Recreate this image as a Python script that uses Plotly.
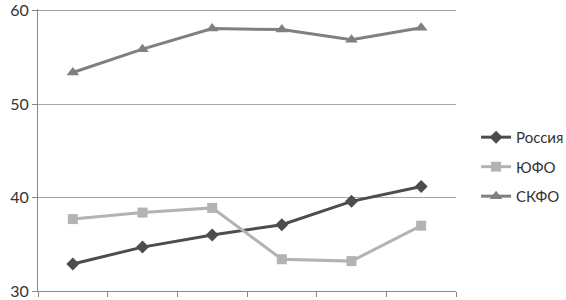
import plotly.graph_objects as go

categories = [1, 2, 3, 4, 5, 6]
russia = [32.9, 34.7, 36.0, 37.1, 39.6, 41.2]
yufo = [37.7, 38.4, 38.9, 33.4, 33.2, 37.0]
skfo = [53.4, 55.9, 58.1, 58.0, 56.9, 58.2]
y_ticks = [30, 40, 50, 60]

x = list(range(len(categories)))

fig = go.Figure()
fig.add_trace(go.Scatter(x=x, y=russia, name="Россия", mode="lines+markers", legendgroup="a",
                         line=dict(color="#4d4d4d", width=3),
                         marker=dict(symbol="diamond", size=10, color="#4d4d4d")))
fig.add_trace(go.Scatter(x=x, y=yufo, name="ЮФО", mode="lines+markers", legendgroup="b",
                         line=dict(color="#b3b3b3", width=3),
                         marker=dict(symbol="square", size=10, color="#b3b3b3")))
fig.add_trace(go.Scatter(x=x, y=skfo, name="СКФО", mode="lines+markers", legendgroup="c",
                         line=dict(color="#808080", width=3),
                         marker=dict(symbol="triangle-up", size=11, color="#808080")))

fig.update_layout(
    width=566, height=300,
    margin=dict(l=38, r=110, t=9, b=9, autoexpand=False),
    paper_bgcolor="white", plot_bgcolor="white",
    font=dict(family="Lato, Open Sans, DejaVu Sans, sans-serif", color="#333333"),
    legend=dict(x=1.048, y=0.44, xanchor="left", yanchor="middle",
                font=dict(size=15, color="#333333"), traceorder="grouped",
                tracegroupgap=7, itemwidth=30, bgcolor="rgba(0,0,0,0)"),
    xaxis=dict(range=[-0.5, 5.5], tickvals=[i - 0.5 for i in range(len(categories) + 1)],
               ticktext=[""] * (len(categories) + 1),
               ticks="outside", ticklen=5, tickcolor="#888888", automargin=False,
               showgrid=False, zeroline=False, showline=True, linecolor="#888888", linewidth=1),
    yaxis=dict(range=[30, 60.2], tickvals=y_ticks, ticks="outside", ticklen=5, tickcolor="#888888",
               tickfont=dict(size=16, color="#333333"), automargin=False,
               ticklabeloverflow="allow",
               showgrid=True, gridcolor="#a6a6a6", gridwidth=1,
               zeroline=False, showline=True, linecolor="#888888", linewidth=1),
)

fig.write_html("out.html", config={"displayModeBar": False},
               post_script="document.body.style.margin='0';document.body.style.overflow='hidden';")
